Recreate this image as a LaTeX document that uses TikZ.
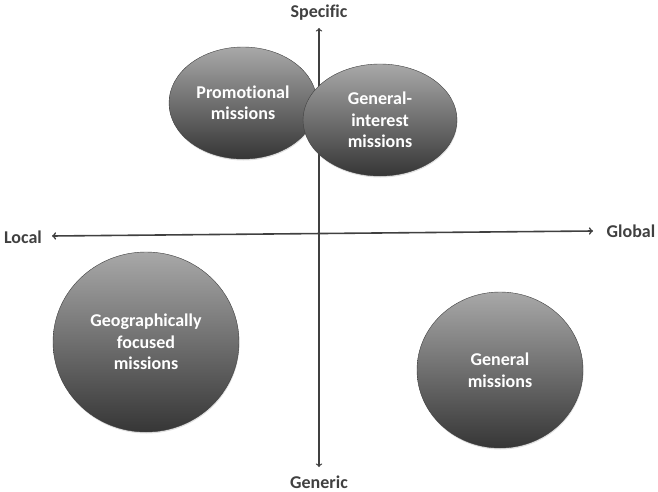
\documentclass[tikz,border=0pt]{standalone}
\usepackage{fontspec}
\setmainfont{Carlito}[Ligatures=NoCommon]
\usetikzlibrary{arrows,shapes.geometric,shadows}

\definecolor{axisgray}{HTML}{404040}
\definecolor{shadetop}{HTML}{A8A8A8}
\definecolor{shadebot}{HTML}{363636}

\tikzset{
  mission/.style={ellipse, draw=axisgray, thin, top color=shadetop, bottom color=shadebot,
    text=white, font=\bfseries\fontsize{18}{21.5}\selectfont, align=center, inner sep=0pt,
    drop shadow={opacity=.25, shadow xshift=.5pt, shadow yshift=-1.5pt}},
  axislabel/.style={text=axisgray, font=\bfseries\fontsize{18}{21}\selectfont}
}

\begin{document}
\begin{tikzpicture}[x=1pt, y=-1pt]
			\useasboundingbox (0,0) rectangle (658,492);

			\node[axislabel] (specific) at (319,13) {Specific};
			\node[axislabel] (generic) at (319,482) {Generic};
			\node[axislabel] (local) at (23,237) {Local};
			\node[axislabel] (global) at (631,231) {Global};

			\coordinate (top) at (319,28);
			\coordinate (bottom) at (319,467);
			\coordinate (left) at (52,236);
			\coordinate (right) at (593,231);

			\draw[axisgray, line width=1.3pt] [<->] (bottom) -- (top);
			\draw[axisgray, line width=1.6pt] [<->] (left) -- (right);

			\node[mission, minimum width=148, minimum height=112] (promo) at (243,103) {Promotional\\missions};
			\node[mission, minimum width=154, minimum height=112] (interest) at (380,120) {General-\\interest\\missions};

			\node[mission, minimum width=186, minimum height=180] (geo) at (146,342) {Geographically\\focused\\missions};
			\node[mission, minimum width=166, minimum height=156] (general) at (500,370) {General\\missions};
\end{tikzpicture}
\end{document}
